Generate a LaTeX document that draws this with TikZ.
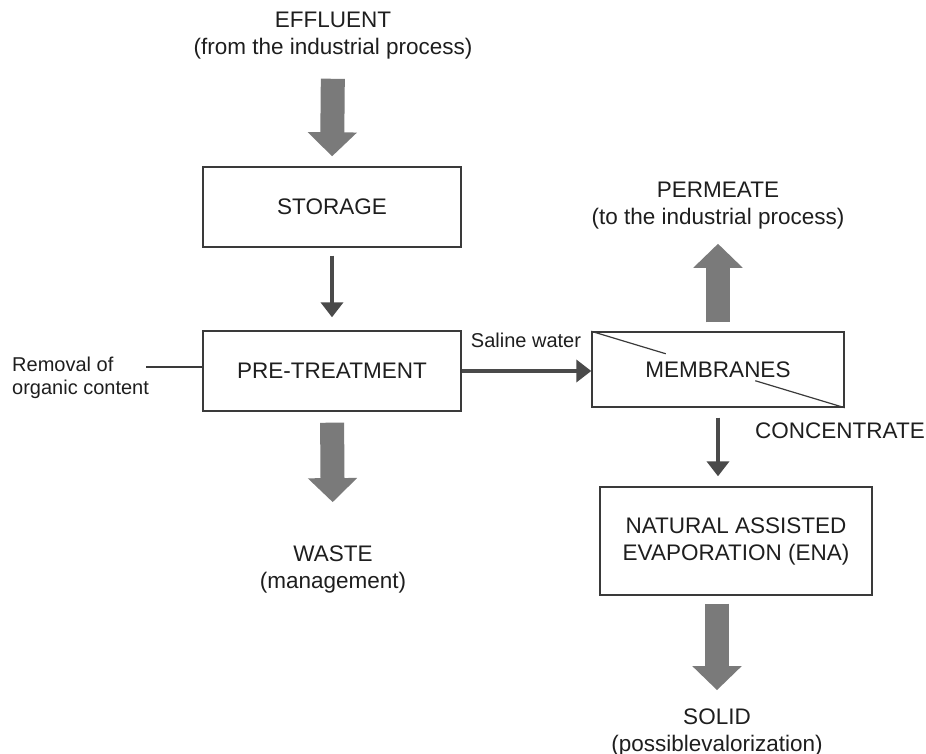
\documentclass[tikz,border=0pt]{standalone}
\usepackage{fontspec}
\setmainfont{Liberation Sans}
\usetikzlibrary{calc}
\usetikzlibrary{arrows.meta}

\definecolor{boxline}{HTML}{3A3A3A}
\definecolor{fatgray}{HTML}{7A7A7A}
\definecolor{slimgray}{HTML}{4A4A4A}
\definecolor{txt}{HTML}{1E1E1E}
\newcommand{\bigtxt}{\fontsize{22.5}{27}\selectfont}
\newcommand{\smalltxt}{\fontsize{20}{23}\selectfont}

\begin{document}
\begin{tikzpicture} [x=1pt, y=-1pt,
  stage/.style={draw=boxline, line width=1.4pt, minimum width=258pt, minimum height=80pt, align=center, text=txt, font=\bigtxt},
  lbl/.style={align=center, inner sep=0pt, text=txt, font=\bigtxt},
  bigarrow/.style={fatgray, line width=24pt, -{Triangle[width=48pt,length=24pt]}},
  smallarrow/.style={slimgray, line width=4pt, -{Triangle[width=22pt,length=15pt]}}]
\useasboundingbox (0,0) rectangle (926,754);
\node[lbl] (effl) at (333,36) {EFFLUENT\\(from the industrial process)};
\node[stage] (stor) at (332,207) {STORAGE};
\node[stage] (pre) at (332,371) {PRE-TREATMENT};
\node[stage, minimum width=252pt, minimum height=75pt] (mem) at (718,369.5) {MEMBRANES};
\node[stage, minimum width=272pt, minimum height=108pt] (ena) at (736,541) {NATURAL ASSISTED\\EVAPORATION (ENA)};
\node[lbl] (perm) at (718,206) {PERMEATE\\(to the industrial process)};
\node[lbl, anchor=west] (conc) at (755,431) {CONCENTRATE};
\node[lbl] (waste) at (333,569) {WASTE\\(management)};
\node[lbl] (solid) at (717,732) {SOLID\\(possiblevalorization)};
\node[lbl, align=left, anchor=west, font=\smalltxt] (rem) at (12,378) {Removal of\\organic content};
\node[lbl, font=\smalltxt] (sal) at (526,340) {Saline water};
\coordinate (remend) at (146,367);
\draw[boxline, line width=1.2pt] (mem.north west) -- ($(mem.north west)!.294!(mem.south east)$)
  ($(mem.north west)!.647!(mem.south east)$) -- (mem.south east);
\draw[bigarrow, shorten <=19pt, shorten >=10pt] (effl.south) -- (stor.north);
\draw[smallarrow, shorten <=8pt, shorten >=13pt] (stor.south) -- (pre.north);
\draw[boxline, line width=1.2pt] (remend) -- (remend -| pre.west);
\draw[smallarrow] (pre.east) -- (pre.east -| mem.west);
\draw[bigarrow, shorten <=11pt, shorten >=43pt] (pre.south) -- (waste.north);
\draw[bigarrow, shorten <=9pt, shorten >=14pt] (mem.north) -- (perm.south);
\draw[smallarrow, shorten <=10pt, shorten >=10pt] (mem.south) -- (mem.south |- ena.north);
\draw[bigarrow, shorten <=8pt, shorten >=18pt] (ena.south -| solid.north) -- (solid.north);
\end{tikzpicture}
\end{document}
